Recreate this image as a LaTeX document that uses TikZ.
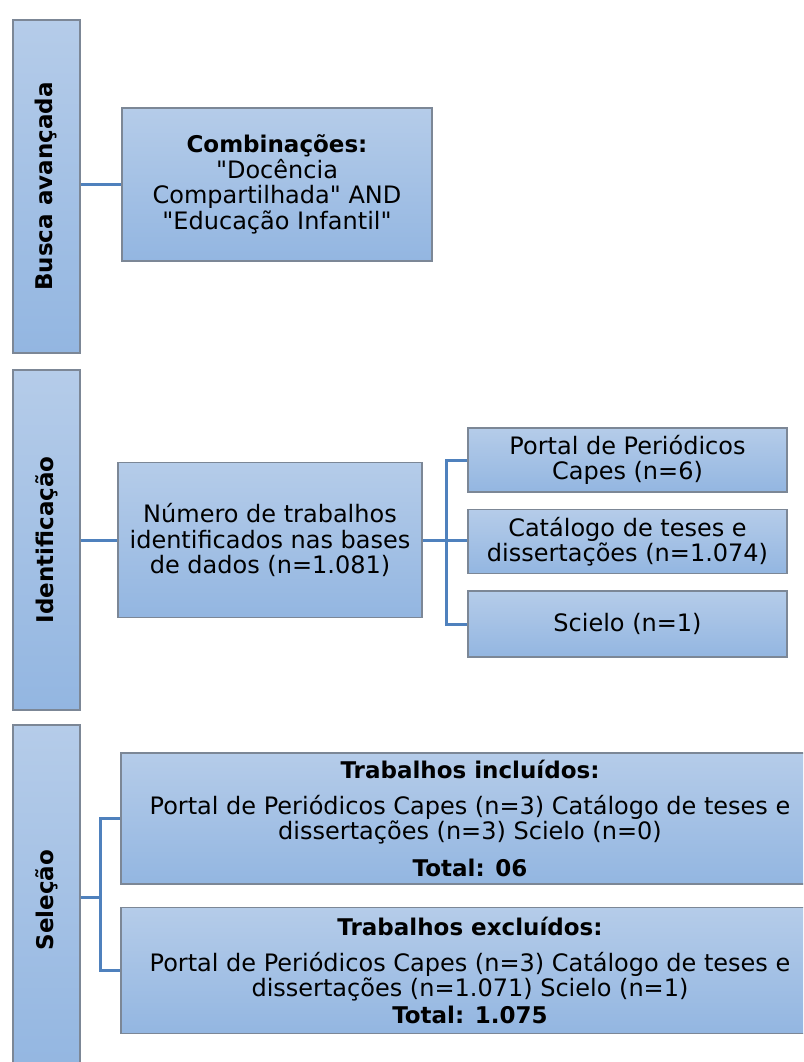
\documentclass[tikz,border=0pt]{standalone}
\usepackage{fontspec}
\setmainfont{DejaVu Sans}[Ligatures=TeXOff]
\usepackage{tikz}
\usetikzlibrary{positioning, calc}
\usepackage{xcolor}
\definecolor{box-top}{HTML}{B5CCE9}
\definecolor{box-bottom}{HTML}{93B6E1}
\definecolor{box-line}{HTML}{7C8796}
\definecolor{link-blue}{HTML}{4F81BD}

\begin{document}
\begin{tikzpicture}[x=1pt, y=-1pt, node distance=16pt,
	box/.style={draw=box-line, line width=1.5pt, top color=box-top, bottom color=box-bottom, inner sep=0pt, align=center, font=\fontsize{24}{25.5}\selectfont},
	bar/.style={box, rotate=90, minimum height=67pt, font=\fontsize{23}{25}\selectfont\bfseries},
	head/.style={font=\fontsize{23}{25.5}\selectfont\bfseries},
	link/.style={draw=link-blue, line width=3pt}]
	\useasboundingbox (0,0) rectangle (803,1062);
	\clip (0,0) rectangle (803,1062);
	\node[bar, minimum width=333pt] (busca) at (46.5,186.5) {Busca avançada};
	\node[bar, minimum width=340pt] (ident) at (46.5,540) {Identificação};
	\node[bar, minimum width=350pt] (selec) at (46.5,900) {Seleção};
	\node[box, minimum width=310pt, minimum height=153pt] (comb) at (277,184.5) {{\fontsize{23}{25.5}\selectfont\bfseries Combinações:}\\"Docência\\Compartilhada" AND\\"Educação Infantil"};
	\node[box, minimum width=304pt, minimum height=155pt] (num) at (270,540) {Número de trabalhos\\identificados nas bases\\de dados (n=1.081)};
	\node[box, minimum width=319pt, minimum height=64pt] (portal) at (627.5,460) {Portal de Periódicos\\Capes (n=6)};
	\node[box, minimum width=319pt, minimum height=64pt, below=of portal] (catalogo) {Catálogo de teses e\\dissertações (n=1.074)};
	\node[box, minimum width=319pt, minimum height=66pt, below=of catalogo] (scielo) {Scielo (n=1)};
	\node[box, minimum width=698pt, minimum height=131pt] (incl) at (470,818.5) {{\fontsize{23}{25.5}\selectfont\bfseries Trabalhos incluídos:}\\[10pt]Portal de Periódicos Capes (n=3) Catálogo de teses e\\dissertações (n=3) Scielo (n=0)\\[11pt]{\fontsize{23}{25.5}\selectfont\bfseries Total: 06}};
	\node[box, minimum width=698pt, minimum height=126pt, below=22pt of incl] (excl) {{\fontsize{23}{25.5}\selectfont\bfseries Trabalhos excluídos:}\\[10pt]Portal de Periódicos Capes (n=3) Catálogo de teses e\\dissertações (n=1.071) Scielo (n=1)\\[1pt]{\fontsize{23}{25.5}\selectfont\bfseries Total: 1.075}};
	\coordinate (fork) at ($(num.east)+(24,0)$);
	\coordinate (sfork) at (100,897);
	\draw[link] (comb.west -| busca.south) -- (comb.west);
	\draw[link] (num.west -| ident.south) -- (num.west);
	\draw[link] (num.east) -- (fork) -- (fork -| catalogo.west);
	\draw[link] (portal.west) -| (fork) |- (scielo.west);
	\draw[link] (sfork -| selec.south) -- (sfork);
	\draw[link] (incl.west) -| (sfork) |- (excl.west);
\end{tikzpicture}
\end{document}
